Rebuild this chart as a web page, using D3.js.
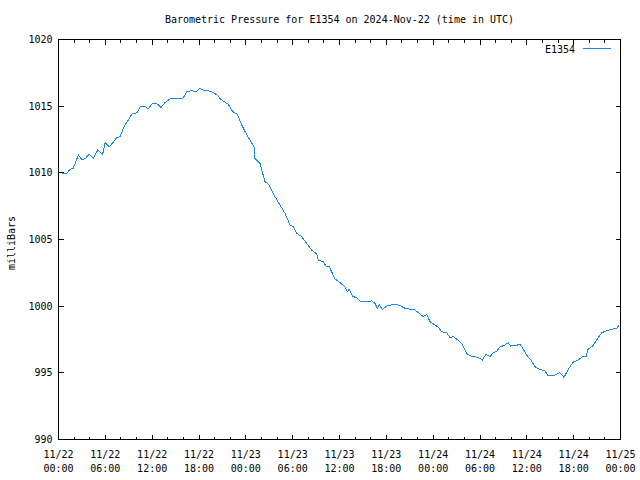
<!DOCTYPE html>
<html><head><meta charset="utf-8">
<script src="https://cdn.jsdelivr.net/npm/d3@7"></script>
<style>
body{margin:0;background:#fff}
svg{display:block}
text{font-family:"DejaVu Sans Mono","Liberation Mono",monospace;font-size:10px;fill:#000}
</style>
</head><body><svg id="c" width="640" height="480"></svg>
<script>
// hours since 2024-11-22 00:00 UTC
const hours = [0.45,1.05,1.47,1.90,2.54,2.97,3.39,3.95,4.46,5.02,5.66,5.96,6.51,7.02,7.46,7.88,8.39,8.94,9.45,10.09,10.53,11.08,11.50,12.02,12.66,13.13,13.64,14.28,14.92,15.91,16.42,17.06,17.70,18.04,18.55,19.19,19.83,20.27,20.91,21.33,21.75,22.32,22.91,23.47,23.98,24.53,25.04,25.17,25.81,26.45,26.88,27.61,28.25,29.02,29.66,30.08,30.52,31.16,31.80,32.44,33.08,33.28,33.92,34.27,34.69,35.42,36.06,36.70,37.00,37.25,37.69,38.20,38.62,39.26,40.12,40.55,40.84,41.10,41.48,42.12,43.11,43.75,44.39,45.03,45.67,46.31,46.73,47.17,47.59,48.23,48.65,49.09,49.73,50.15,50.58,51.22,51.65,52.29,52.81,53.78,54.29,54.77,55.28,55.70,56.14,56.56,57.07,57.62,57.93,58.61,59.12,59.55,60.06,60.49,61.04,61.68,62.32,62.75,63.61,64.25,64.76,65.31,65.95,66.59,67.23,67.67,67.74,68.43,69.15,69.59,70.23,70.87,71.51,71.84];
const pressure = [1009.95,1009.95,1010.27,1010.35,1011.34,1011.0,1011.05,1011.4,1011.1,1011.7,1011.4,1012.26,1011.96,1012.3,1012.66,1012.7,1013.46,1013.96,1014.46,1014.5,1015.01,1015.01,1014.79,1015.21,1015.16,1014.91,1015.26,1015.54,1015.59,1015.54,1016.09,1016.16,1016.09,1016.34,1016.21,1016.16,1016.04,1015.84,1015.46,1015.3,1015.14,1014.59,1014.41,1013.59,1013.01,1012.46,1011.96,1011.09,1010.71,1009.34,1009.16,1008.34,1007.71,1006.96,1006.09,1005.96,1005.46,1005.21,1004.71,1004.21,1003.91,1003.46,1003.34,1003.01,1002.96,1002.05,1001.76,1001.46,1001.09,1001.26,1000.71,1000.66,1000.39,1000.34,1000.39,1000.21,999.84,1000.09,999.76,1000.04,1000.14,1000.04,999.84,999.78,999.71,999.41,999.21,999.39,998.84,998.59,998.41,998.09,998.0,997.64,997.71,997.44,997.21,996.46,996.26,996.16,995.96,996.39,996.21,996.51,996.6,996.96,997.04,997.26,997.01,997.04,997.16,996.76,996.26,996.01,995.46,995.26,995.14,994.76,994.84,995.01,994.66,995.26,995.81,995.96,996.26,996.26,996.71,997.01,997.64,998.01,998.16,998.26,998.34,998.59];

const xMajorTicks = [0,6,12,18,24,30,36,42,48,54,60,66,72];
const xTickDates = ["11/22","11/22","11/22","11/22","11/23","11/23","11/23","11/23","11/24","11/24","11/24","11/24","11/25"];
const xTickTimes = ["00:00","06:00","12:00","18:00","00:00","06:00","12:00","18:00","00:00","06:00","12:00","18:00","00:00"];
const xMinorTicks = [2,4,8,10,14,16,20,22,26,28,32,34,38,40,44,46,50,52,56,58,62,64,68,70];
const yTicks = [990,995,1000,1005,1010,1015,1020];

const titleText = "Barometric Pressure for E1354 on 2024-Nov-22 (time in UTC)";
const yLabel = "milliBars";
const seriesName = "E1354";
const lineColor = "#1c86ee";

const L = 58.5, R = 620.5, T = 39.5, B = 439.5;
const svg = d3.select("#c");
const x = d3.scaleLinear().domain([0,72]).range([L,R]);
const y = d3.scaleLinear().domain([990,1020]).range([B,T]);

const g = svg.append("g");

// ticks
const tk = g.append("g").attr("stroke","#000").attr("stroke-width",1).attr("shape-rendering","crispEdges");
xMajorTicks.forEach(h=>{
  tk.append("line").attr("x1",x(h)).attr("x2",x(h)).attr("y1",B).attr("y2",B-5);
  tk.append("line").attr("x1",x(h)).attr("x2",x(h)).attr("y1",T).attr("y2",T+5);
});
xMinorTicks.forEach(h=>{
  tk.append("line").attr("x1",x(h)).attr("x2",x(h)).attr("y1",B).attr("y2",B-3);
  tk.append("line").attr("x1",x(h)).attr("x2",x(h)).attr("y1",T).attr("y2",T+3);
});
yTicks.forEach(v=>{
  tk.append("line").attr("x1",L).attr("x2",L+5).attr("y1",y(v)).attr("y2",y(v));
  tk.append("line").attr("x1",R).attr("x2",R-5).attr("y1",y(v)).attr("y2",y(v));
});

// frame
g.append("rect").attr("x",L).attr("y",T).attr("width",R-L).attr("height",B-T)
  .attr("fill","none").attr("stroke","#000").attr("stroke-width",1).attr("shape-rendering","crispEdges");

// tick labels
yTicks.forEach(v=>{
  g.append("text").attr("x",L-6).attr("y",y(v)+3.5).attr("text-anchor","end").text(v);
});
xMajorTicks.forEach((h,i)=>{
  const t = g.append("text").attr("text-anchor","middle");
  t.append("tspan").attr("x",x(h)).attr("y",458).text(xTickDates[i]);
  t.append("tspan").attr("x",x(h)).attr("y",472).text(xTickTimes[i]);
});

// title & axis label
g.append("text").attr("x",339.5).attr("y",23).attr("text-anchor","middle").text(titleText);
g.append("text").attr("transform","translate(15,243) rotate(-90)").attr("text-anchor","middle").text(yLabel);

// legend
g.append("text").attr("x",575).attr("y",53).attr("text-anchor","end").text(seriesName);
g.append("line").attr("x1",583).attr("x2",611).attr("y1",48.5).attr("y2",48.5)
  .attr("stroke",lineColor).attr("stroke-width",1).attr("shape-rendering","crispEdges");

// data line
const data = hours.map((h,i)=>({h, p:pressure[i]}));
g.append("path").datum(data)
  .attr("d", d3.line().x(d=>x(d.h)).y(d=>y(d.p)))
  .attr("fill","none").attr("stroke",lineColor).attr("stroke-width",1)
  .attr("shape-rendering","crispEdges");
</script></body></html>
